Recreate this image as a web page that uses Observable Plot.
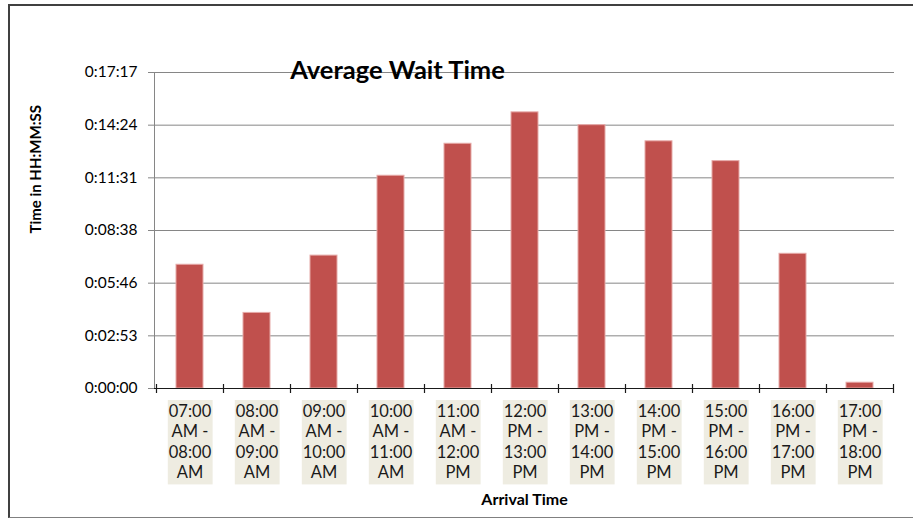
<!DOCTYPE html>
<html>
<head>
<meta charset="utf-8">
<script src="https://cdn.jsdelivr.net/npm/d3@7"></script>
<script src="https://cdn.jsdelivr.net/npm/@observablehq/plot@0.6"></script>
<style>
  body { margin: 0; background: #fff; }
  #wrap { position: relative; width: 913px; height: 518px; overflow: hidden; background: #fff; }
  #wrap svg { position: absolute; left: 0; top: 0; }
  #border { position: absolute; left: 8px; top: 4px; width: 1000px; height: 514px; box-sizing: border-box;
            border-left: 2px solid #404040; border-top: 2px solid #404040; border-bottom: 1px solid #808080;
            pointer-events: none; }
</style>
</head>
<body>
<div id="wrap"></div>
<script>
const categories = [
  "07:00 AM - 08:00 AM", "08:00 AM - 09:00 AM", "09:00 AM - 10:00 AM", "10:00 AM - 11:00 AM",
  "11:00 AM - 12:00 PM", "12:00 PM - 13:00 PM", "13:00 PM - 14:00 PM", "14:00 PM - 15:00 PM",
  "15:00 PM - 16:00 PM", "16:00 PM - 17:00 PM", "17:00 PM - 18:00 PM"
];
// average wait in seconds
const waitSeconds = [406, 248, 436, 698, 803, 906, 864, 811, 746, 442, 19];
// y ticks in seconds (0.002 day steps)
const yTicks = [0, 172.8, 345.6, 518.4, 691.2, 864, 1036.8];
const titleText = "Average Wait Time";
const yTitle = "Time in HH:MM:SS";
const xTitle = "Arrival Time";

const data = categories.map((c, i) => ({range: c, wait: waitSeconds[i]}));

const fmt = (s) => {
  s = Math.round(s);
  const h = Math.floor(s / 3600), m = Math.floor((s % 3600) / 60), ss = s % 60;
  return `${h}:${String(m).padStart(2, "0")}:${String(ss).padStart(2, "0")}`;
};
const splitLabel = (c) => {
  const p = c.split(" ");
  return [p[0], p[1] + " " + p[2], p[3], p[4]].join("\n");
};

function make(step) {
  return Plot.plot({
    width: 913,
    height: 518,
    marginLeft: 154,
    marginRight: 19,
    marginTop: 72,
    marginBottom: 130,
    style: {fontFamily: "Lato, 'Open Sans', sans-serif", fontSize: "15px", background: "transparent", color: "#000"},
    x: {domain: categories, paddingInner: 0.6, paddingOuter: 0.3, axis: null},
    y: {domain: [0, 1036.8], axis: null},
    marks: [
      Plot.gridY(yTicks, {stroke: "#868686", strokeOpacity: 1}),
      Plot.barY(data, {x: "range", y: "wait", fill: "#c0504d", stroke: "#e6aaa8", strokeWidth: 1}),
      Plot.frame({anchor: "left", stroke: "#868686"}),
      Plot.axisY(yTicks, {tickFormat: fmt, tickSize: 6, tickPadding: 11, stroke: "#868686", fill: "#000", fontSize: 15.5, label: null}),
      Plot.ruleY([0], {stroke: "#1a1a1a", strokeWidth: 1.2}),
      step ? Plot.ruleX(categories, {x: (d) => d, y1: 0, y2: 0, insetTop: -4, insetBottom: -5, dx: -step / 2, stroke: "#1a1a1a", strokeWidth: 1.2}) : null,
      step ? Plot.ruleX([categories[categories.length - 1]], {x: (d) => d, y1: 0, y2: 0, insetTop: -4, insetBottom: -5, dx: step / 2, stroke: "#1a1a1a", strokeWidth: 1.2}) : null,
      Plot.text(data, {x: "range", text: (d) => splitLabel(d.range), frameAnchor: "bottom", lineAnchor: "top", dy: 14, lineHeight: 1.24, fontSize: 16.5, fill: "#1a1a1a"}),
      Plot.text([titleText], {frameAnchor: "top", dx: -127, dy: -12, fontSize: 25.5, fontWeight: "bold", fill: "#000"}),
      Plot.text([yTitle], {frameAnchor: "left", dx: -118, dy: 3, rotate: -90, fontSize: 15, fontWeight: "bold", fill: "#000"}),
      Plot.text([xTitle], {frameAnchor: "bottom", dy: 116, fontSize: 16, fontWeight: "bold", fill: "#000"})
    ]
  });
}

const probe = make(0);
const step = probe.scale("x").step;
const chart = make(step);
const wrap = document.getElementById("wrap");
wrap.appendChild(chart);
const border = document.createElement("div");
border.id = "border";
wrap.appendChild(border);

// beige backgrounds behind category labels
Array.from(chart.querySelectorAll("text"))
  .filter((t) => t.querySelectorAll("tspan").length === 4 && /^\d\d:00/.test(t.textContent))
  .forEach((t) => {
    const b = t.getBBox();
    const r = document.createElementNS("http://www.w3.org/2000/svg", "rect");
    r.setAttribute("x", b.x - 1);
    r.setAttribute("y", b.y - 1);
    r.setAttribute("width", b.width + 2);
    r.setAttribute("height", b.height + 3);
    r.setAttribute("fill", "#eeece1");
    const tr = t.getAttribute("transform");
    if (tr) r.setAttribute("transform", tr);
    t.parentNode.insertBefore(r, t);
  });
</script>
</body>
</html>
